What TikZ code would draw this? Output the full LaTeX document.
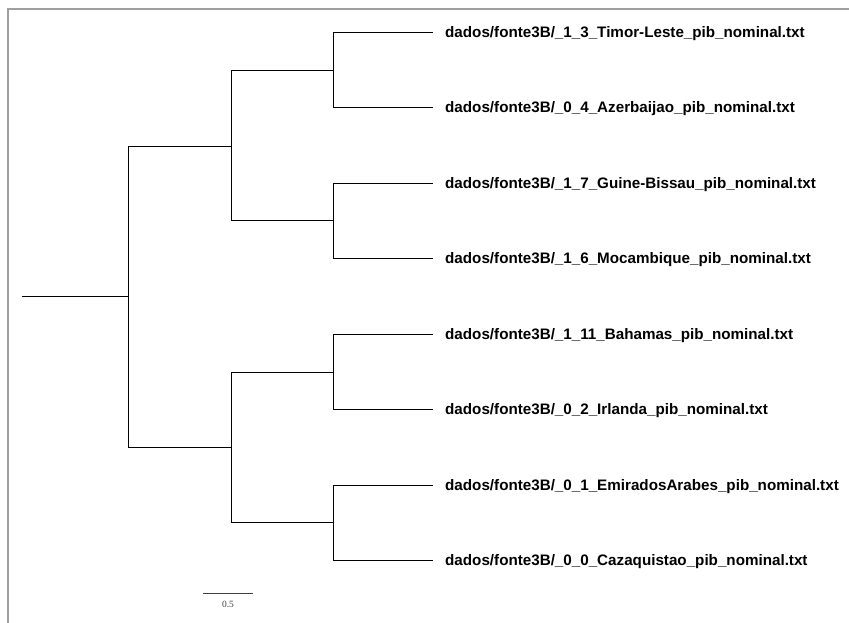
\documentclass[tikz,border=0pt]{standalone}
\usepackage{fontspec,tikz}
\setmainfont{Liberation Sans}
\newfontfamily\scalefont{Liberation Serif}
\begin{document}
\begin{tikzpicture}[x=1pt,y=-1pt,
  leaf/.style={anchor=base west,inner sep=0pt,font=\bfseries\fontsize{15.2}{17}\selectfont},
  branch/.style={line width=.9pt,draw=black},
  frame/.style={draw=gray!75,line width=1.1pt}]
\useasboundingbox (0,0) rectangle (849,623);
\draw[frame] (8,623) -- (8,9) -- (849,9);
% inner nodes of the tree
\coordinate (r0) at (22,296);
\coordinate (n0) at (128,296);
\coordinate (n1) at (231,146);
\coordinate (n2) at (231,447);
\coordinate (n11) at (333,70);
\coordinate (n12) at (333,220);
\coordinate (n21) at (333,372);
\coordinate (n22) at (333,522);
\draw[branch] (r0) -- (n0);
\draw[branch] (n0) |- (n1);
\draw[branch] (n0) |- (n2);
\draw[branch] (n1) |- (n11);
\draw[branch] (n1) |- (n12);
\draw[branch] (n2) |- (n21);
\draw[branch] (n2) |- (n22);
% leaves
\foreach \i/\y/\p/\name in {1/32/n11/1\_3\_Timor-Leste,2/107/n11/0\_4\_Azerbaijao,3/183/n12/1\_7\_Guine-Bissau,4/258/n12/1\_6\_Mocambique,5/334/n21/1\_11\_Bahamas,6/409/n21/0\_2\_Irlanda,7/485/n22/0\_1\_EmiradosArabes,8/560/n22/0\_0\_Cazaquistao}{
  \coordinate (t\i) at (433,\y);
  \node[leaf] (l\i) at (445,\y+5.2) {dados/fonte3B/\_\name\_pib\_nominal.txt};
  \draw[branch] (\p) |- (t\i);
}
% scale bar
\coordinate (s0) at (203,593);
\coordinate (s1) at (253,593);
\draw[draw=black!75,line width=.9pt] (s0) -- (s1);
\node[font=\scalefont\fontsize{9.5}{10}\selectfont,text=black!75] (sl) at (228,604) {0.5};
\end{tikzpicture}
\end{document}
